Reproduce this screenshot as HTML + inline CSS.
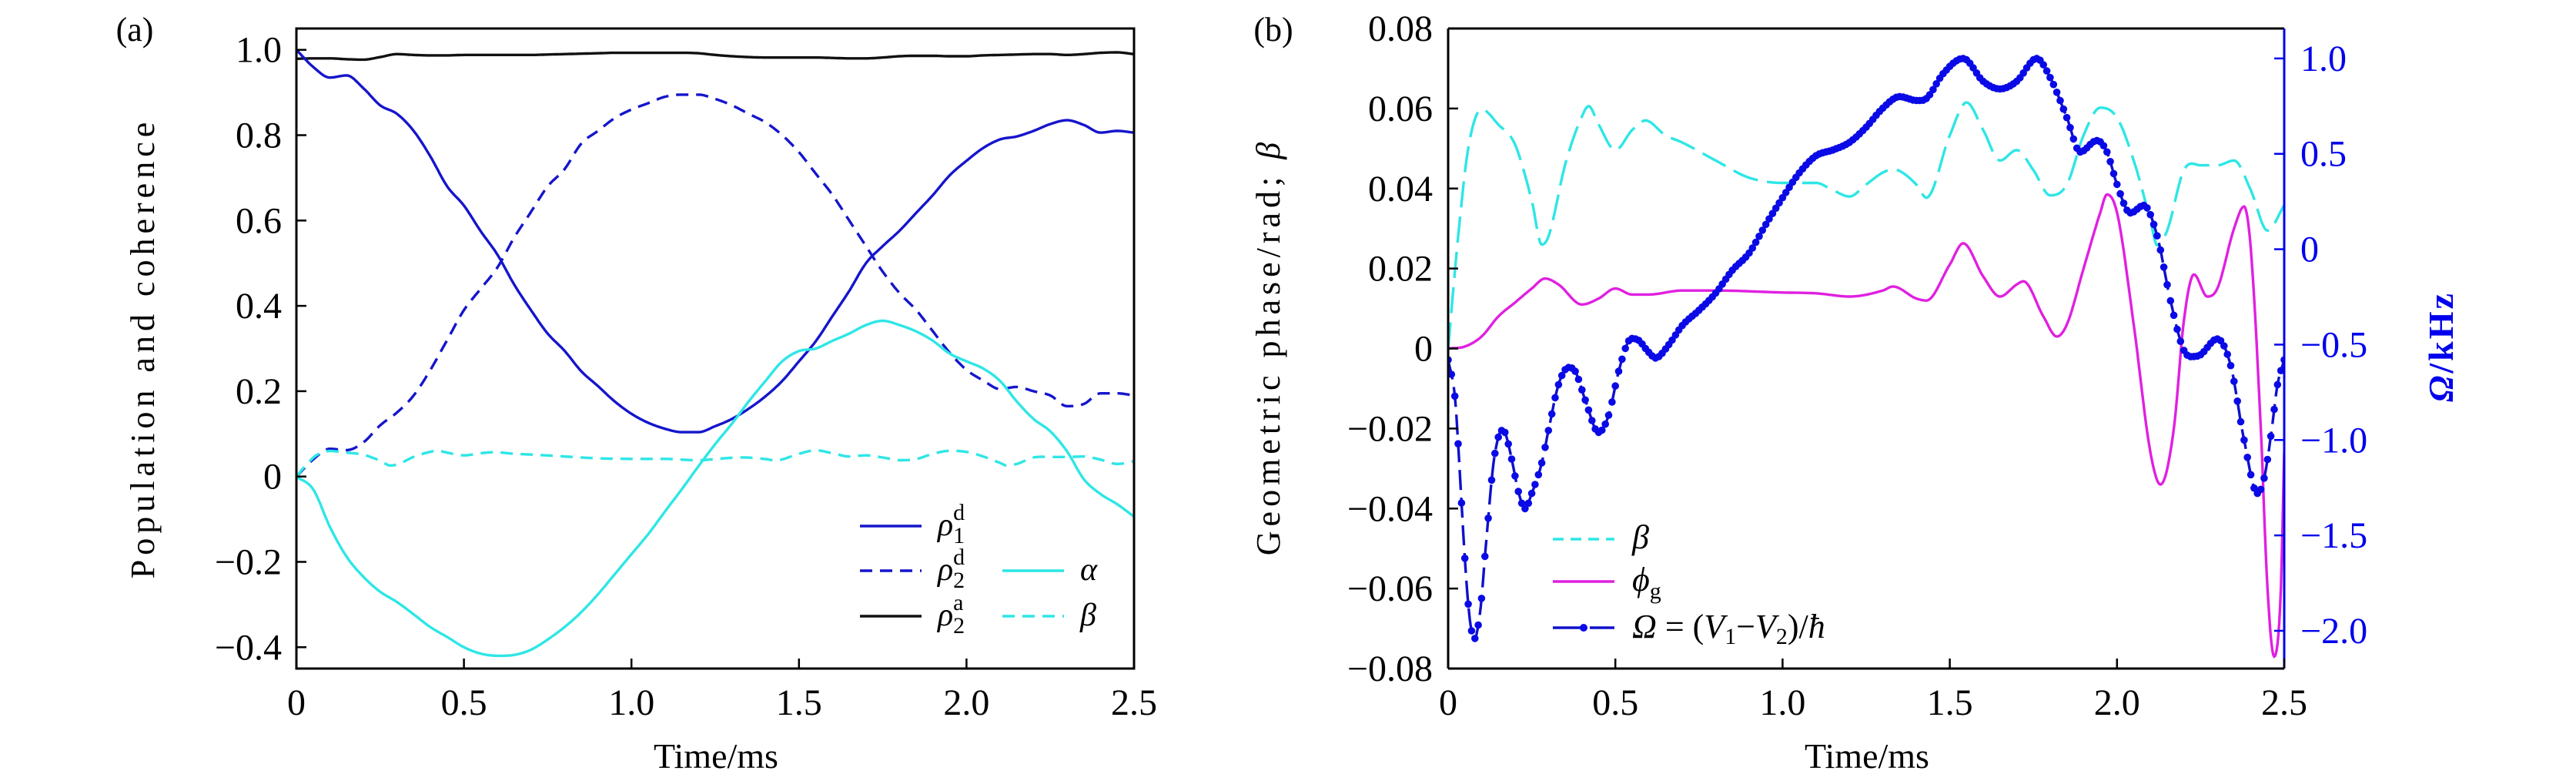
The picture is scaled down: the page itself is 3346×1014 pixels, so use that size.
<!DOCTYPE html>
<html><head><meta charset="utf-8"><style>
body{margin:0;background:#fff}
svg{display:block;font-family:"Liberation Serif",serif}
</style></head><body>
<svg id="fig" width="3346" height="1014" viewBox="0 0 3346 1014">
</svg>
<script>
// ---------- Panel (a) data ----------
const tA = [0,0.05,0.1,0.15,0.2,0.25,0.3,0.35,0.4,0.45,0.5,0.55,0.6,0.65,0.7,0.75,0.8,0.85,0.9,0.95,1.0,1.05,1.1,1.15,1.2,1.25,1.3,1.35,1.4,1.45,1.5,1.55,1.6,1.65,1.7,1.75,1.8,1.85,1.9,1.95,2.0,2.05,2.1,2.15,2.2,2.25,2.3,2.35,2.4,2.45,2.5];
const rho1d = [1.0,0.96,0.935,0.94,0.91,0.87,0.85,0.81,0.75,0.68,0.635,0.575,0.52,0.45,0.39,0.335,0.295,0.247,0.212,0.176,0.147,0.126,0.112,0.104,0.104,0.118,0.135,0.159,0.188,0.224,0.27,0.317,0.376,0.435,0.5,0.54,0.576,0.618,0.66,0.706,0.74,0.77,0.79,0.797,0.81,0.826,0.835,0.824,0.806,0.81,0.806];
const rho2d = [0,0.04,0.065,0.062,0.08,0.12,0.15,0.19,0.25,0.32,0.39,0.44,0.49,0.56,0.62,0.68,0.72,0.78,0.81,0.84,0.86,0.875,0.89,0.895,0.895,0.885,0.87,0.85,0.83,0.8,0.76,0.71,0.66,0.6,0.54,0.48,0.43,0.39,0.34,0.29,0.25,0.225,0.205,0.21,0.2,0.19,0.165,0.17,0.195,0.195,0.19];
const rho2a = [0.979,0.98,0.98,0.978,0.977,0.983,0.99,0.988,0.987,0.987,0.988,0.988,0.988,0.988,0.988,0.989,0.99,0.991,0.992,0.993,0.993,0.993,0.993,0.993,0.992,0.988,0.985,0.983,0.982,0.982,0.982,0.982,0.981,0.98,0.98,0.982,0.985,0.986,0.986,0.985,0.985,0.987,0.988,0.989,0.99,0.99,0.988,0.99,0.993,0.994,0.99];
const alphaA = [0,-0.03,-0.118,-0.188,-0.235,-0.27,-0.294,-0.323,-0.353,-0.376,-0.4,-0.415,-0.42,-0.418,-0.406,-0.382,-0.353,-0.318,-0.276,-0.229,-0.182,-0.135,-0.082,-0.03,0.024,0.076,0.124,0.176,0.224,0.27,0.294,0.3,0.318,0.335,0.355,0.365,0.355,0.34,0.318,0.288,0.27,0.253,0.224,0.176,0.135,0.106,0.059,-0.006,-0.041,-0.065,-0.094];
// beta (shared by both panels)
const tBeta = [0,0.03,0.06,0.1,0.15,0.2,0.25,0.28,0.3,0.35,0.4,0.42,0.45,0.5,0.55,0.59,0.65,0.7,0.8,0.9,1.0,1.1,1.15,1.2,1.25,1.3,1.33,1.4,1.43,1.5,1.55,1.6,1.65,1.7,1.75,1.8,1.85,1.9,1.95,2.0,2.05,2.1,2.12,2.15,2.2,2.25,2.3,2.35,2.4,2.45,2.5];
const beta = [0,0.028,0.05,0.0598,0.056,0.051,0.037,0.026,0.028,0.046,0.058,0.0606,0.056,0.0496,0.0546,0.057,0.0533,0.0515,0.047,0.0427,0.0414,0.0414,0.0396,0.038,0.041,0.044,0.0448,0.041,0.0377,0.0533,0.0615,0.0546,0.047,0.0496,0.0446,0.0383,0.041,0.0533,0.0602,0.0577,0.047,0.032,0.0258,0.0295,0.0446,0.0458,0.0458,0.047,0.0396,0.0295,0.0358];
// ---------- Panel (b) data ----------
const tPhi = [0,0.05,0.1,0.15,0.2,0.25,0.29,0.33,0.4,0.45,0.5,0.55,0.6,0.7,0.8,1.0,1.1,1.2,1.3,1.33,1.4,1.43,1.5,1.54,1.6,1.65,1.7,1.72,1.78,1.82,1.85,1.9,1.95,1.97,2.0,2.05,2.1,2.13,2.17,2.2,2.23,2.27,2.3,2.35,2.38,2.4,2.43,2.45,2.47,2.49,2.5];
const phiG = [0,0.0005,0.003,0.008,0.0115,0.015,0.0175,0.016,0.011,0.0125,0.015,0.0135,0.0135,0.0145,0.0145,0.014,0.0138,0.013,0.0145,0.0155,0.0125,0.012,0.021,0.0263,0.018,0.013,0.016,0.0168,0.008,0.003,0.006,0.02,0.034,0.0385,0.034,0.006,-0.026,-0.034,-0.02,0.007,0.0185,0.013,0.015,0.03,0.0355,0.025,-0.02,-0.06,-0.077,-0.06,-0.026];
const tOm = [0,0.02,0.03,0.04,0.05,0.06,0.07,0.08,0.09,0.1,0.11,0.12,0.13,0.14,0.16,0.17,0.19,0.21,0.23,0.25,0.28,0.3,0.33,0.36,0.38,0.41,0.45,0.48,0.51,0.54,0.56,0.6,0.62,0.66,0.7,0.75,0.8,0.85,0.9,0.95,1.0,1.05,1.1,1.15,1.2,1.25,1.3,1.35,1.4,1.43,1.48,1.54,1.6,1.65,1.7,1.76,1.8,1.85,1.89,1.94,1.97,2.0,2.04,2.08,2.12,2.16,2.2,2.24,2.3,2.34,2.38,2.42,2.44,2.46,2.48,2.5];
const omega = [-0.58,-0.77,-1.02,-1.33,-1.62,-1.86,-2.0,-2.04,-1.97,-1.83,-1.61,-1.41,-1.21,-1.07,-0.95,-0.96,-1.1,-1.27,-1.36,-1.28,-1.12,-0.95,-0.71,-0.62,-0.64,-0.79,-0.96,-0.87,-0.64,-0.48,-0.47,-0.54,-0.57,-0.5,-0.4,-0.32,-0.23,-0.11,-0.02,0.13,0.27,0.4,0.49,0.52,0.56,0.64,0.74,0.8,0.78,0.79,0.92,1.0,0.88,0.84,0.88,1.0,0.9,0.69,0.51,0.57,0.51,0.34,0.19,0.23,0.07,-0.27,-0.53,-0.56,-0.47,-0.61,-1.0,-1.28,-1.2,-0.98,-0.71,-0.58];
const xTicks = [0,0.5,1.0,1.5,2.0,2.5];
const xTickLabels = ["0","0.5","1.0","1.5","2.0","2.5"];
const yTicksA = [-0.4,-0.2,0,0.2,0.4,0.6,0.8,1.0];
const yTickLabelsA = ["\u22120.4","\u22120.2","0","0.2","0.4","0.6","0.8","1.0"];
const yTicksB = [-0.08,-0.06,-0.04,-0.02,0,0.02,0.04,0.06,0.08];
const yTickLabelsB = ["\u22120.08","\u22120.06","\u22120.04","\u22120.02","0","0.02","0.04","0.06","0.08"];
const yTicksR = [-2,-1.5,-1,-0.5,0,0.5,1.0];
const yTickLabelsR = ["\u22122.0","\u22121.5","\u22121.0","\u22120.5","0","0.5","1.0"];

const NS="http://www.w3.org/2000/svg";
const svg=document.getElementById('fig');
function mk(tag,attrs,parent){const e=document.createElementNS(NS,tag);for(const k in attrs)e.setAttribute(k,attrs[k]);(parent||svg).appendChild(e);return e;}
function txt(s,x,y,attrs,parent){const e=mk('text',Object.assign({x:x,y:y},attrs),parent);e.textContent=s;return e;}

function interp(ts,vs){
  const n=ts.length, m=[];
  for(let i=0;i<n;i++){
    if(i===0)m.push((vs[1]-vs[0])/(ts[1]-ts[0]));
    else if(i===n-1)m.push((vs[n-1]-vs[n-2])/(ts[n-1]-ts[n-2]));
    else{const a=(vs[i]-vs[i-1])/(ts[i]-ts[i-1]),b=(vs[i+1]-vs[i])/(ts[i+1]-ts[i]);m.push(a*b<=0?0:(a+b)/2);}
  }
  return function(t){
    let i=0;while(i<n-2&&t>ts[i+1])i++;
    const h=ts[i+1]-ts[i],s=(t-ts[i])/h,s2=s*s,s3=s2*s;
    return (2*s3-3*s2+1)*vs[i]+(s3-2*s2+s)*h*m[i]+(-2*s3+3*s2)*vs[i+1]+(s3-s2)*h*m[i+1];
  };
}
function pathFor(ts,vs,X,Y){
  const f=interp(ts,vs);let d='';
  for(let k=0;k<=1000;k++){const t=ts[0]+(ts[ts.length-1]-ts[0])*k/1000;d+=(k?'L':'M')+X(t).toFixed(1)+','+Y(f(t)).toFixed(1);}
  return d;
}

// ---------- Panel (a) ----------
const A={x0:385,x1:1473,y0:37,y1:868};
const XA=t=>A.x0+(t-0)/2.5*(A.x1-A.x0);
const YA=v=>A.y1-(v-(-0.45))/(1.05-(-0.45))*(A.y1-A.y0);
const ga=mk('g',{});


function series(g,ts,vs,X,Y,color,dash,name,w){
  const p=mk('path',{d:pathFor(ts,vs,X,Y),fill:'none',stroke:color,'stroke-width':w||3.4,'stroke-dasharray':dash||'none'},g);
  
  
  return p;
}
series(ga,tA,rho2a,XA,YA,'#111','', 'rho2a-line');
series(ga,tA,rho1d,XA,YA,'#1515cc','', 'rho1d-line');
series(ga,tA,rho2d,XA,YA,'#1515cc','16 10', 'rho2d-line');
series(ga,tA,alphaA,XA,YA,'#2ee6e6','', 'alpha-line');
series(ga,tBeta,beta,XA,YA,'#2ee6e6','16 10', 'beta-line-a');
mk('rect',{x:A.x0,y:A.y0,width:A.x1-A.x0,height:A.y1-A.y0,fill:'none',stroke:'#000','stroke-width':3},ga);
xTicks.forEach((t,i)=>{
  mk('line',{x1:XA(t),x2:XA(t),y1:A.y1,y2:A.y1-13,stroke:'#000','stroke-width':2.5},ga);
  const l=txt(xTickLabels[i],XA(t),928,{'font-size':48,'text-anchor':'middle'},ga);
  
  
});
yTicksA.forEach((v,i)=>{
  mk('line',{x1:A.x0,x2:A.x0+13,y1:YA(v),y2:YA(v),stroke:'#000','stroke-width':2.5},ga);
  const l=txt(yTickLabelsA[i],366,YA(v)+16,{'font-size':48,'text-anchor':'end'},ga);
  
  
});
let e;
e=txt('(a)',175,53,{'font-size':44,'text-anchor':'middle'},ga);

e=txt('Time/ms',930,997,{'font-size':46,'text-anchor':'middle'},ga);

e=txt('Population and coherence',0,0,{'font-size':44,'text-anchor':'middle','letter-spacing':'6','transform':'translate(200,452) rotate(-90)'},ga);

const legA=mk('g',{},ga);


[[1117,683,'#1515cc','','ρ','1','d'],[1117,741,'#1515cc','16 10','ρ','2','d'],[1117,800,'#111','','ρ','2','a']].forEach(r=>{
  mk('line',{x1:r[0],x2:r[0]+80,y1:r[1],y2:r[1],stroke:r[2],'stroke-width':3.4,'stroke-dasharray':r[3]||'none'},legA);
  const t=mk('text',{x:1218,y:r[1]+12,'font-size':42,'font-style':'italic'},legA);
  t.innerHTML=r[4]+'<tspan font-style="normal" font-size="30" dy="10">'+r[5]+'</tspan><tspan font-style="normal" font-size="30" dx="-15" dy="-30">'+r[6]+'</tspan>';
  
  
});
[[1302,741,'#2ee6e6','','α'],[1302,800,'#2ee6e6','16 10','β']].forEach(r=>{
  mk('line',{x1:r[0],x2:r[0]+80,y1:r[1],y2:r[1],stroke:r[2],'stroke-width':3.4,'stroke-dasharray':r[3]||'none'},legA);
  const t=txt(r[4],1403,r[1]+12,{'font-size':42,'font-style':'italic'},legA);
  
  
});

// ---------- Panel (b) ----------
const B={x0:1881,x1:2967,y0:37,y1:868};
const XB=t=>B.x0+t/2.5*(B.x1-B.x0);
const YB=v=>B.y1-(v+0.08)/0.16*(B.y1-B.y0);
const YR=v=>B.y1-(v-(-2.198))/(1.157-(-2.198))*(B.y1-B.y0);
const gb=mk('g',{});


const clip=mk('clipPath',{id:'cb'},gb);mk('rect',{x:B.x0,y:B.y0,width:B.x1-B.x0,height:B.y1-B.y0},clip);
const gpl=mk('g',{'clip-path':'url(#cb)'},gb);
series(gpl,tBeta,beta,XB,YB,'#2ee6e6','34 12','beta-line-b');
series(gpl,tPhi,phiG,XB,YB,'#e020e0','','phi-g-line');
series(gpl,tOm,omega,XB,YR,'#1010cc','26 10','omega-line');
const fo=interp(tOm,omega);
const dots=mk('g',{fill:'#0a0ae6'},gpl);


for(let k=0;k<=250;k++){const t=k*0.01;mk('circle',{cx:XB(t).toFixed(1),cy:YR(fo(t)).toFixed(1),r:4.8},dots);}
mk('line',{x1:B.x0,x2:B.x0,y1:B.y0,y2:B.y1,stroke:'#000','stroke-width':3},gb);
mk('line',{x1:B.x0,x2:B.x1,y1:B.y0,y2:B.y0,stroke:'#000','stroke-width':3},gb);
mk('line',{x1:B.x0,x2:B.x1,y1:B.y1,y2:B.y1,stroke:'#000','stroke-width':3},gb);
mk('line',{x1:B.x1,x2:B.x1,y1:B.y0,y2:B.y1,stroke:'#0000ee','stroke-width':3},gb);
xTicks.forEach((t,i)=>{
  mk('line',{x1:XB(t),x2:XB(t),y1:B.y1,y2:B.y1-13,stroke:'#000','stroke-width':2.5},gb);
  const l=txt(xTickLabels[i],XB(t),928,{'font-size':48,'text-anchor':'middle'},gb);
  
  
});
yTicksB.forEach((v,i)=>{
  mk('line',{x1:B.x0,x2:B.x0+13,y1:YB(v),y2:YB(v),stroke:'#000','stroke-width':2.5},gb);
  const l=txt(yTickLabelsB[i],1861,YB(v)+16,{'font-size':48,'text-anchor':'end'},gb);
  
  
});
yTicksR.forEach((v,i)=>{
  mk('line',{x1:B.x1,x2:B.x1-13,y1:YR(v),y2:YR(v),stroke:'#0000ee','stroke-width':2.5},gb);
  const l=txt(yTickLabelsR[i],2988,YR(v)+16,{'font-size':48,'fill':'#0000ee'},gb);
  
  
});
e=txt('(b)',1654,53,{'font-size':44,'text-anchor':'middle'},gb);

e=txt('Time/ms',2425,997,{'font-size':46,'text-anchor':'middle'},gb);

e=mk('text',{x:0,y:0,'font-size':44,'text-anchor':'middle','letter-spacing':'6','transform':'translate(1662,450) rotate(-90)'},gb);
e.innerHTML='Geometric phase/rad; <tspan font-style="italic">β</tspan>';

e=mk('text',{x:0,y:0,'font-size':46,'text-anchor':'middle','fill':'#0000ee','letter-spacing':'3','font-weight':'bold','transform':'translate(3186,450) rotate(-90)'},gb);
e.innerHTML='<tspan font-style="italic">Ω</tspan>/kHz';

const legB=mk('g',{},gb);


mk('line',{x1:2017,x2:2097,y1:700,y2:700,stroke:'#2ee6e6','stroke-width':3.4,'stroke-dasharray':'14 9'},legB);
mk('line',{x1:2017,x2:2097,y1:755,y2:755,stroke:'#e020e0','stroke-width':3.4},legB);
mk('line',{x1:2017,x2:2097,y1:815,y2:815,stroke:'#1010cc','stroke-width':3.4,'stroke-dasharray':'40 8 40'},legB);
mk('circle',{cx:2057,cy:815,r:5,fill:'#0a0ae6'},legB);
e=txt('β',2120,712,{'font-size':44,'font-style':'italic'},legB);

e=mk('text',{x:2120,y:767,'font-size':44,'font-style':'italic'},legB);
e.innerHTML='ϕ<tspan font-style="normal" font-size="30" dy="10">g</tspan>';

e=mk('text',{x:2120,y:828,'font-size':44},legB);
e.innerHTML='<tspan font-style="italic">Ω</tspan> = (<tspan font-style="italic">V</tspan><tspan font-size="30" dy="8">1</tspan><tspan dy="-8">−</tspan><tspan font-style="italic">V</tspan><tspan font-size="30" dy="8">2</tspan><tspan dy="-8">)/<tspan font-style="italic">ħ</tspan></tspan>';

</script>
</body></html>
